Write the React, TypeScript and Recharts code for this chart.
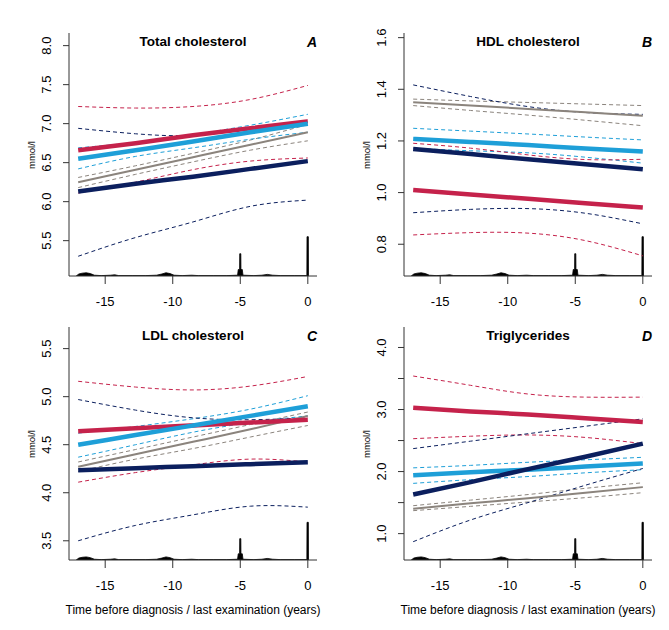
import React from "react";
import { ComposedChart, Line, Area, XAxis, YAxis } from "recharts";

// time grid (years before diagnosis) for the fitted curves
const years = [-17, -12.75, -8.5, -4.25, 0];

// A: total cholesterol
const totRed = [6.66, 6.75, 6.85, 6.94, 7.03];
const totRedLo = [6.11, 6.25, 6.41, 6.52, 6.56];
const totRedHi = [7.22, 7.2, 7.22, 7.31, 7.49];
const totBlue = [6.55, 6.66, 6.77, 6.89, 7.0];
const totBlueLo = [6.42, 6.58, 6.69, 6.8, 6.89];
const totBlueHi = [6.69, 6.76, 6.86, 6.98, 7.12];
const totNavy = [6.13, 6.23, 6.32, 6.42, 6.52];
const totNavyLo = [5.3, 5.54, 5.74, 5.94, 6.02];
const totNavyHi = [6.94, 6.87, 6.85, 6.93, 7.02];
const totGray = [6.25, 6.41, 6.57, 6.73, 6.89];
const totGrayLo = [6.18, 6.35, 6.51, 6.66, 6.78];
const totGrayHi = [6.31, 6.46, 6.62, 6.79, 6.99];

// B: HDL cholesterol
const hdlRed = [1.01, 0.993, 0.976, 0.959, 0.942];
const hdlRedLo = [0.836, 0.845, 0.843, 0.814, 0.755];
const hdlRedHi = [1.191, 1.172, 1.146, 1.128, 1.129];
const hdlBlue = [1.208, 1.196, 1.184, 1.171, 1.159];
const hdlBlueLo = [1.172, 1.162, 1.154, 1.137, 1.114];
const hdlBlueHi = [1.249, 1.238, 1.227, 1.215, 1.204];
const hdlNavy = [1.169, 1.149, 1.129, 1.11, 1.09];
const hdlNavyLo = [0.922, 0.935, 0.938, 0.92, 0.879];
const hdlNavyHi = [1.417, 1.372, 1.333, 1.31, 1.303];
const hdlGray = [1.35, 1.337, 1.324, 1.311, 1.298];
const hdlGrayLo = [1.337, 1.318, 1.3, 1.28, 1.259];
const hdlGrayHi = [1.362, 1.355, 1.349, 1.343, 1.337];

// C: LDL cholesterol
const ldlRed = [4.64, 4.67, 4.7, 4.73, 4.76];
const ldlRedLo = [4.11, 4.21, 4.29, 4.35, 4.32];
const ldlRedHi = [5.16, 5.1, 5.07, 5.11, 5.21];
const ldlBlue = [4.5, 4.6, 4.7, 4.8, 4.9];
const ldlBlueLo = [4.37, 4.5, 4.63, 4.73, 4.8];
const ldlBlueHi = [4.62, 4.69, 4.77, 4.87, 5.01];
const ldlNavy = [4.235, 4.256, 4.277, 4.297, 4.318];
const ldlNavyLo = [3.5, 3.66, 3.77, 3.86, 3.85];
const ldlNavyHi = [4.97, 4.86, 4.78, 4.76, 4.78];
const ldlGray = [4.27, 4.4, 4.53, 4.66, 4.8];
const ldlGrayLo = [4.22, 4.35, 4.46, 4.58, 4.7];
const ldlGrayHi = [4.32, 4.45, 4.58, 4.71, 4.84];

// D: triglycerides
const tgRed = [3.03, 2.97, 2.92, 2.86, 2.8];
const tgRedLo = [2.53, 2.57, 2.59, 2.55, 2.45];
const tgRedHi = [3.54, 3.39, 3.25, 3.2, 3.2];
const tgBlue = [1.94, 1.99, 2.03, 2.08, 2.13];
const tgBlueLo = [1.81, 1.87, 1.92, 1.98, 2.03];
const tgBlueHi = [2.06, 2.1, 2.15, 2.19, 2.23];
const tgNavy = [1.63, 1.83, 2.04, 2.24, 2.45];
const tgNavyLo = [0.87, 1.22, 1.5, 1.78, 2.05];
const tgNavyHi = [2.37, 2.49, 2.61, 2.73, 2.85];
const tgGray = [1.4, 1.49, 1.57, 1.66, 1.75];
const tgGrayLo = [1.37, 1.44, 1.51, 1.58, 1.66];
const tgGrayHi = [1.45, 1.54, 1.63, 1.73, 1.82];

// distribution of measurement times (relative density, drawn along the x axis)
const densYears = [
  -17.15, -16.95, -16.7, -16.4, -16.1, -15.8, -15.3, -14.6, -14.3, -14.0,
  -13.0, -12.0, -11.2, -10.8, -10.5, -10.2, -9.9, -9.3, -8.6, -8.1,
  -7.0, -6.0, -5.2, -5.15, -5.05, -5.04, -4.96, -4.95, -4.85, -4.8,
  -4.0, -3.4, -3.0, -2.6, -2.0, -1.0, -0.07, -0.06, 0.04, 0.05,
];
const densValues = [
  0, 0.05, 0.07, 0.08, 0.06, 0.02, 0.01, 0.02, 0.03, 0.01,
  0.01, 0.01, 0.02, 0.05, 0.08, 0.06, 0.02, 0.01, 0.02, 0.01,
  0.01, 0.01, 0.02, 0.16, 0.16, 0.55, 0.55, 0.16, 0.16, 0.02,
  0.01, 0.02, 0.04, 0.02, 0.01, 0.01, 0.01, 0.97, 0.97, 0,
];

const xTicks = [-15, -10, -5, 0];

const RED = "#C5224B";
const BLUE = "#1E9FD8";
const NAVY = "#0B1F5E";
const GRAY = "#8B847D";
const AXIS = "#333";
const FONT = '"Liberation Sans", Arial, sans-serif';

type Series = Record<string, number[]>;

function buildRows(series: Series) {
  const rows: Record<string, number>[] = years.map((x, i) => {
    const row: Record<string, number> = { x };
    Object.keys(series).forEach((k) => (row[k] = series[k][i]));
    return row;
  });
  densYears.forEach((x, i) => rows.push({ x, d: densValues[i] }));
  return rows.sort((a, b) => a.x - b.x);
}

function XTick(props: any) {
  const { x, y, payload } = props;
  return (
    <text x={x} y={y + 22} textAnchor="middle" fontSize={13} fontFamily={FONT} fill="#000">
      {payload.value}
    </text>
  );
}

const makeYTick = (integersOnly: boolean) => (props: any) => {
  const { x, y, payload } = props;
  const v = payload.value as number;
  if (integersOnly && Math.abs(v - Math.round(v)) > 1e-6) return <g />;
  return (
    <text
      transform={`translate(${x - 12.5},${y}) rotate(-90)`}
      textAnchor="middle"
      fontSize={13}
      fontFamily={FONT}
      fill="#000"
    >
      {v.toFixed(1)}
    </text>
  );
};

interface PanelProps {
  left: number;
  top: number;
  width: number;
  bottomRow: boolean;
  title: string;
  letter: string;
  yDomain: [number, number];
  yTicks: number[];
  integersOnly?: boolean;
  series: Series;
}

function Panel(p: PanelProps) {
  const data = buildRows(p.series);
  const plotTop = p.bottomRow ? 12 : 33;
  const plotBottom = p.bottomRow ? 245 : 276;
  const margin = {
    top: plotTop,
    right: p.width - 248 - 69,
    bottom: p.bottomRow ? 10 : 9,
    left: 29,
  };
  const midX = p.left + 193;

  const band = (keys: string[], color: string) =>
    keys.map((k) => (
      <Line
        key={k}
        yAxisId="v"
        dataKey={k}
        type="natural"
        stroke={color}
        strokeWidth={1}
        strokeDasharray="4 3"
        dot={false}
        activeDot={false}
        connectNulls
        isAnimationActive={false}
      />
    ));

  const mean = (k: string, color: string, w: number) => (
    <Line
      yAxisId="v"
      dataKey={k}
      type="natural"
      stroke={color}
      strokeWidth={w}
      dot={false}
      activeDot={false}
      connectNulls
      isAnimationActive={false}
    />
  );

  return (
    <>
      <div style={{ position: "absolute", left: p.left, top: p.top }}>
        <ComposedChart width={p.width} height={315} data={data} margin={margin}>
          <XAxis
            dataKey="x"
            type="number"
            domain={[-17.68, 0.68]}
            ticks={xTicks}
            allowDataOverflow
            height={p.bottomRow ? 60 : 30}
            tick={<XTick />}
            tickSize={8}
            tickMargin={0}
            axisLine={{ stroke: AXIS }}
            tickLine={{ stroke: AXIS }}
          />
          <YAxis
            yAxisId="v"
            type="number"
            domain={p.yDomain}
            ticks={p.yTicks}
            allowDataOverflow
            width={40}
            tick={makeYTick(!!p.integersOnly)}
            tickSize={6}
            tickMargin={0}
            axisLine={{ stroke: AXIS }}
            tickLine={{ stroke: AXIS }}
          />
          <YAxis yAxisId="dens" orientation="right" hide domain={[0, 6]} allowDataOverflow />
          <Area
            yAxisId="dens"
            dataKey="d"
            type="linear"
            fill="#000"
            fillOpacity={1}
            stroke="#000"
            strokeWidth={0.8}
            dot={false}
            activeDot={false}
            connectNulls
            isAnimationActive={false}
          />
          {band(["grayLo", "grayHi"], GRAY)}
          {band(["blueLo", "blueHi"], BLUE)}
          {band(["redLo", "redHi"], RED)}
          {band(["navyLo", "navyHi"], NAVY)}
          {mean("gray", GRAY, 2)}
          {mean("red", RED, 4.5)}
          {mean("blue", BLUE, 4.5)}
          {mean("navy", NAVY, 4.5)}
        </ComposedChart>
      </div>
      <div
        style={{
          position: "absolute",
          left: midX,
          top: p.top + plotTop + 9,
          transform: "translate(-50%, -50%)",
          fontFamily: FONT,
          fontWeight: "bold",
          fontSize: 13.5,
          lineHeight: 1,
          whiteSpace: "nowrap",
        }}
      >
        {p.title}
      </div>
      <div
        style={{
          position: "absolute",
          left: p.left + 312,
          top: p.top + plotTop + 9,
          transform: "translate(-50%, -50%)",
          fontFamily: FONT,
          fontWeight: "bold",
          fontStyle: "italic",
          fontSize: 14,
          lineHeight: 1,
        }}
      >
        {p.letter}
      </div>
      <div
        style={{
          position: "absolute",
          left: p.left + 32,
          top: p.top + (plotTop + plotBottom) / 2,
          transform: "translate(-50%, -50%) rotate(-90deg)",
          fontFamily: FONT,
          fontSize: 9.5,
          lineHeight: 1,
          whiteSpace: "nowrap",
        }}
      >
        mmol/l
      </div>
      {p.bottomRow && (
        <div
          style={{
            position: "absolute",
            left: midX,
            top: 610,
            transform: "translate(-50%, -50%)",
            fontFamily: FONT,
            fontSize: 12,
            lineHeight: 1,
            whiteSpace: "nowrap",
          }}
        >
          Time before diagnosis / last examination (years)
        </div>
      )}
    </>
  );
}

export default function App() {
  return (
    <div style={{ position: "absolute", left: 0, top: 0, width: 669, height: 630, background: "#fff" }}>
      <Panel
        left={0}
        top={0}
        width={335}
        bottomRow={false}
        title="Total cholesterol"
        letter="A"
        yDomain={[5.047, 8.162]}
        yTicks={[5.5, 6.0, 6.5, 7.0, 7.5, 8.0]}
        series={{
          red: totRed, redLo: totRedLo, redHi: totRedHi,
          blue: totBlue, blueLo: totBlueLo, blueHi: totBlueHi,
          navy: totNavy, navyLo: totNavyLo, navyHi: totNavyHi,
          gray: totGray, grayLo: totGrayLo, grayHi: totGrayHi,
        }}
      />
      <Panel
        left={335}
        top={0}
        width={334}
        bottomRow={false}
        title="HDL cholesterol"
        letter="B"
        yDomain={[0.677, 1.618]}
        yTicks={[0.8, 1.0, 1.2, 1.4, 1.6]}
        series={{
          red: hdlRed, redLo: hdlRedLo, redHi: hdlRedHi,
          blue: hdlBlue, blueLo: hdlBlueLo, blueHi: hdlBlueHi,
          navy: hdlNavy, navyLo: hdlNavyLo, navyHi: hdlNavyHi,
          gray: hdlGray, grayLo: hdlGrayLo, grayHi: hdlGrayHi,
        }}
      />
      <Panel
        left={0}
        top={315}
        width={335}
        bottomRow={true}
        title="LDL cholesterol"
        letter="C"
        yDomain={[3.3, 5.725]}
        yTicks={[3.5, 4.0, 4.5, 5.0, 5.5]}
        series={{
          red: ldlRed, redLo: ldlRedLo, redHi: ldlRedHi,
          blue: ldlBlue, blueLo: ldlBlueLo, blueHi: ldlBlueHi,
          navy: ldlNavy, navyLo: ldlNavyLo, navyHi: ldlNavyHi,
          gray: ldlGray, grayLo: ldlGrayLo, grayHi: ldlGrayHi,
        }}
      />
      <Panel
        left={335}
        top={315}
        width={334}
        bottomRow={true}
        title="Triglycerides"
        letter="D"
        yDomain={[0.575, 4.33]}
        yTicks={[1.0, 1.5, 2.0, 2.5, 3.0, 3.5, 4.0]}
        integersOnly
        series={{
          red: tgRed, redLo: tgRedLo, redHi: tgRedHi,
          blue: tgBlue, blueLo: tgBlueLo, blueHi: tgBlueHi,
          navy: tgNavy, navyLo: tgNavyLo, navyHi: tgNavyHi,
          gray: tgGray, grayLo: tgGrayLo, grayHi: tgGrayHi,
        }}
      />
    </div>
  );
}
